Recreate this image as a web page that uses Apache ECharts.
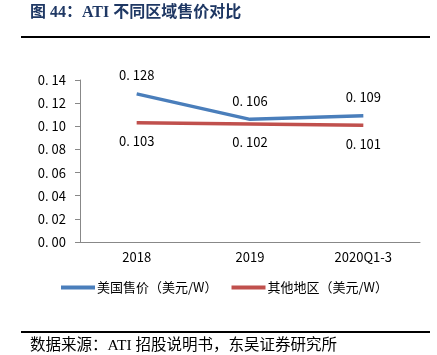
<!DOCTYPE html>
<html><head><meta charset="utf-8">
<script src="https://cdn.jsdelivr.net/npm/echarts@6/dist/echarts.min.js"></script>
<style>html,body{margin:0;padding:0;background:#fff}#c{width:437px;height:355px}</style>
</head><body><div id="c"></div>
<script>
const categories = ['2018', '2019', '2020Q1-3'];
const usPrice = [0.128, 0.106, 0.109];
const otherPrice = [0.103, 0.102, 0.101];
const seriesNames = ['美国售价（美元/W）', '其他地区（美元/W）'];
const titleText = '图 44：ATI 不同区域售价对比';
const sourceText = '数据来源：ATI 招股说明书，东吴证券研究所';

const fmt = v => { const s = String(v); return s.replace('.', '. '); };
const chart = echarts.init(document.getElementById('c'));
const sans = '"Noto Sans CJK SC", "Noto Sans", sans-serif';
chart.setOption({
  animation: false,
  grid: {left: 80, right: 17, top: 80, bottom: 113},
  legend: {
    left: 56, top: 276, itemWidth: 34, itemHeight: 4, itemGap: 14,
    icon: 'rect',
    textStyle: {fontFamily: sans, fontSize: 13, color: '#000', padding: [0, 0, 0, -3]},
    data: seriesNames
  },
  xAxis: {
    type: 'category', data: categories, boundaryGap: true,
    axisLine: {lineStyle: {color: '#888'}},
    axisTick: {lineStyle: {color: '#888'}, length: 5},
    axisLabel: {fontFamily: sans, fontSize: 13, color: '#000', margin: 9}
  },
  yAxis: {
    type: 'value', min: 0, max: 0.14, interval: 0.02,
    splitLine: {show: false},
    axisLine: {show: true, lineStyle: {color: '#888'}},
    axisTick: {show: true, lineStyle: {color: '#888'}, length: 5},
    axisLabel: {fontFamily: sans, fontSize: 13, color: '#000', margin: 14,
      formatter: v => fmt(v.toFixed(2))}
  },
  series: [
    {name: seriesNames[0], type: 'line', data: usPrice, showSymbol: true, symbol: 'circle', symbolSize: 0,
     itemStyle: {color: '#4a7ebb'}, lineStyle: {width: 3.5, color: '#4a7ebb'},
     label: {show: true, position: 'top', distance: 12, fontFamily: sans, fontSize: 13, color: '#000',
       formatter: p => fmt(p.value)}},
    {name: seriesNames[1], type: 'line', data: otherPrice, showSymbol: true, symbol: 'circle', symbolSize: 0,
     itemStyle: {color: '#c0504d'}, lineStyle: {width: 3.5, color: '#c0504d'},
     label: {show: true, position: 'bottom', distance: 12, fontFamily: sans, fontSize: 13, color: '#000',
       formatter: p => fmt(p.value)}}
  ],
  graphic: [
    {type: 'text', left: 30, top: 5, style: {text: titleText, fill: '#1f3864',
      font: 'bold 16px "Liberation Serif", "Noto Sans CJK SC", serif'}},
    {type: 'rect', shape: {x: 21, y: 36, width: 409, height: 2}, style: {fill: '#000'}},
    {type: 'rect', shape: {x: 21, y: 331, width: 409, height: 2}, style: {fill: '#000'}},
    {type: 'text', left: 30, top: 338, style: {text: sourceText, fill: '#000',
      font: '15.5px "Liberation Serif", "Noto Sans CJK SC", serif'}}
  ]
});
</script></body></html>
